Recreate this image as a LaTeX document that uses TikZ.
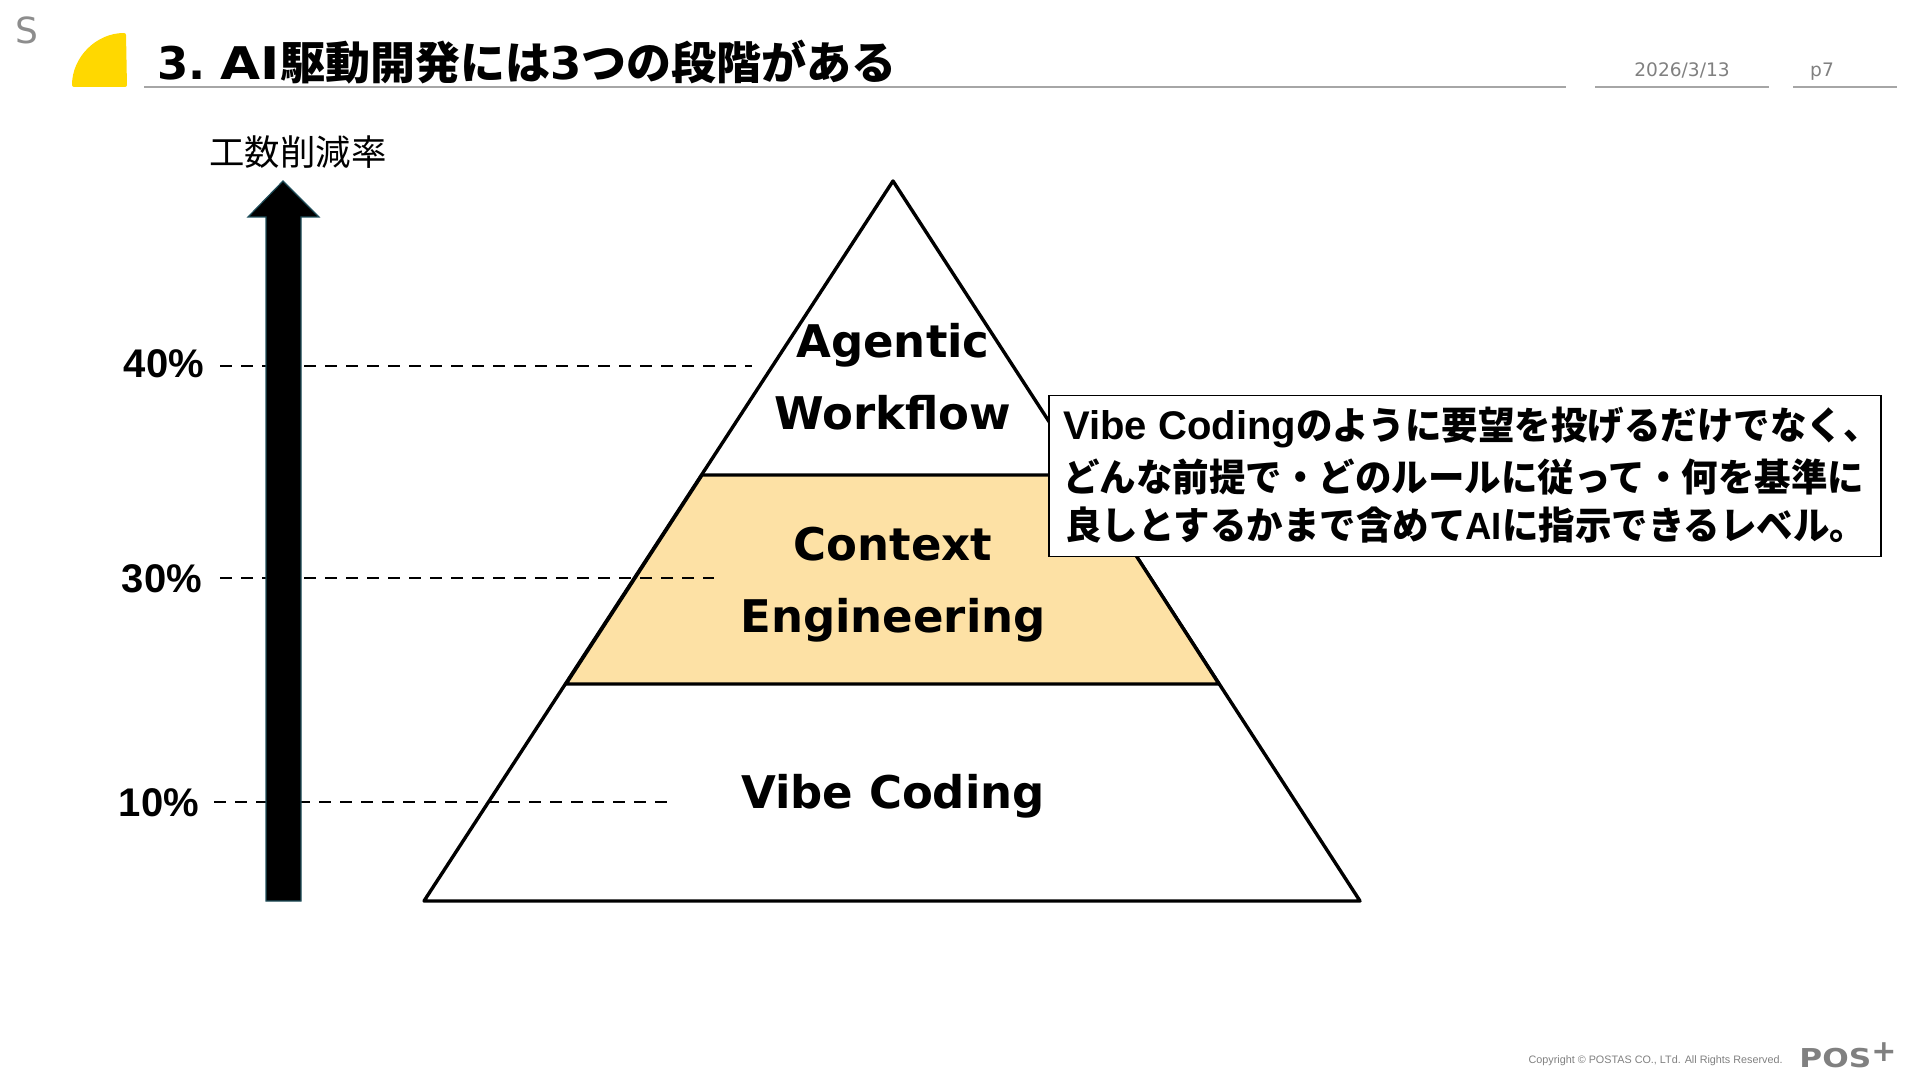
\documentclass[tikz,border=0pt]{standalone}
\usepackage{fontspec}
\usetikzlibrary{positioning, calc}
\setmainfont{DejaVu Sans}
\newfontfamily\cjk{Noto Sans CJK JP}
\newfontfamily\arial{Liberation Sans}
\definecolor{rulegray}{HTML}{A6A6A6}
\definecolor{textgray}{HTML}{808080}
\definecolor{logoyellow}{HTML}{FFD800}
\definecolor{bandfill}{HTML}{FDE1A5}
\definecolor{arrowedge}{HTML}{1F4E5A}
\newcommand{\fsize}[1]{\fontsize{#1}{#1}\selectfont}
\newcommand{\tightcjk}[1]{\scalebox{.96}[1]{\cjk #1}}

\begin{document}
\begin{tikzpicture}[x=0.5pt, y=-0.5pt,
		level/.style={align=center, font=\fsize{22.5}\bfseries, inner sep=0pt},
		rate/.style={font=\arial\fsize{20}\bfseries, inner sep=0pt},
		guide/.style={draw, line width=1.3pt, dash pattern=on 6pt off 4.5pt},
		headrule/.style={draw=rulegray, line width=0.8pt},
		tier/.style={draw, line width=1.7pt, line join=round},
		meta/.style={text=textgray, inner sep=0pt},
		noteline/.style={anchor=west, font=\arial\fsize{19}\bfseries, inner sep=0pt}]
		
	\useasboundingbox (0,0) rectangle (1920,1080);
	
	% Header
	\node [text=rulegray!85!black, font=\fsize{18}, inner sep=0pt] (corner) at (27,30) {S};
	\fill [logoyellow, rounded corners=1pt] (72,87) arc[start angle=180, end angle=270, radius=54] -- (127,87) -- cycle;
	\node [anchor=west, font=\fsize{22.5}\bfseries, inner sep=0pt] (title) at (157,62) {3.\hspace{-3pt} \scalebox{1.15}[1]{AI}{\cjk 駆動開発には}3{\cjk つの段階がある}};
	\node [meta, font=\fsize{9.3}] (date) at (1682,70) {2026/3/13};
	\node [meta, font=\fsize{9.3}] (page) at (1822,72) {p7};
	\coordinate (titleA) at (144,87);
	\coordinate (titleB) at (1566,87);
	\coordinate (dateA) at (1595,87);
	\coordinate (dateB) at (1769,87);
	\coordinate (pageA) at (1793,87);
	\coordinate (pageB) at (1897,87);
	\path [headrule] (titleA) -- (titleB);
	\path [headrule] (dateA) -- (dateB);
	\path [headrule] (pageA) -- (pageB);
	
	% Pyramid
	\coordinate (apex) at (893,181);
	\coordinate (baseL) at (424,901);
	\coordinate (baseR) at (1360,901);
	\coordinate (midL) at (702,475);
	\coordinate (midR) at (1084,475);
	\coordinate (lowL) at (566,684);
	\coordinate (lowR) at (1219,684);
	\path [tier, fill=white] (apex) -- (baseR) -- (baseL) -- cycle;
	\path [tier, fill=bandfill] (midL) -- (midR) -- (lowR) -- (lowL) -- cycle;
	
	\node [level] (agentic) at (893,345) {Agentic};
	\node [level, below=34pt of agentic.center, anchor=center] (workflow) {Workflow};
	\node [level] (context) at (893,544) {Context};
	\node [level] (engineering) at (893,620) {Engineering};
	\node [level] (vibe) at (893,796) {Vibe Coding};
	
	% Scale
	\node [font=\cjk\fsize{17.7}, inner sep=0pt] (ratelabel) at (298,152) {工数削減率};
	\node [rate] (r40) at (164,364) {40\%};
	\node [rate] (r30) at (162,579) {30\%};
	\node [rate] (r10) at (159,803) {10\%};
	\coordinate (g40) at (752,366);
	\coordinate (g30) at (714,578);
	\coordinate (g10) at (667,802);
	\path [guide] (r40.east |- g40) ++(16,0) -- (g40);
	\path [guide] (r30.east |- g30) ++(18,0) -- (g30);
	\path [guide] (r10.east |- g10) ++(15,0) -- (g10);
	\draw [arrowedge, fill=black, line width=0.6pt] (266,901) -- (266,217) -- (248,217) -- (283,181) -- (319,217) -- (301,217) -- (301,901) -- cycle;
	
	% Callout
	\node [draw, fill=white, line width=0.8pt, minimum width=416pt, minimum height=80.5pt, inner sep=0pt] (note) at (1465,476) {};
	\node [noteline] (line1) at (1063,427) {{\fsize{20}Vibe Coding}\tightcjk{のように要望を投げるだけでなく、}};
	\node [noteline] (line2) at (1063,477) {\tightcjk{どんな前提で・どのルールに従って・何を基準に}};
	\node [noteline] (line3) at (1065,525) {\tightcjk{良しとするかまで含めて}\scalebox{.96}[1]{AI}\tightcjk{に指示できるレベル。}};
	
	% Footer
	\node [meta, font=\arial\fsize{5.4}, anchor=east] (copyright) at (1783,1061) {Copyright © POSTAS CO., LTd. All Rights Reserved.};
	\node [meta, font=\fsize{13}\bfseries, anchor=base west] (logo) at (1799,1067) {\scalebox{1.2}[1]{POS}\raisebox{3pt}{\fsize{15}+}};
	
\end{tikzpicture}
\end{document}
